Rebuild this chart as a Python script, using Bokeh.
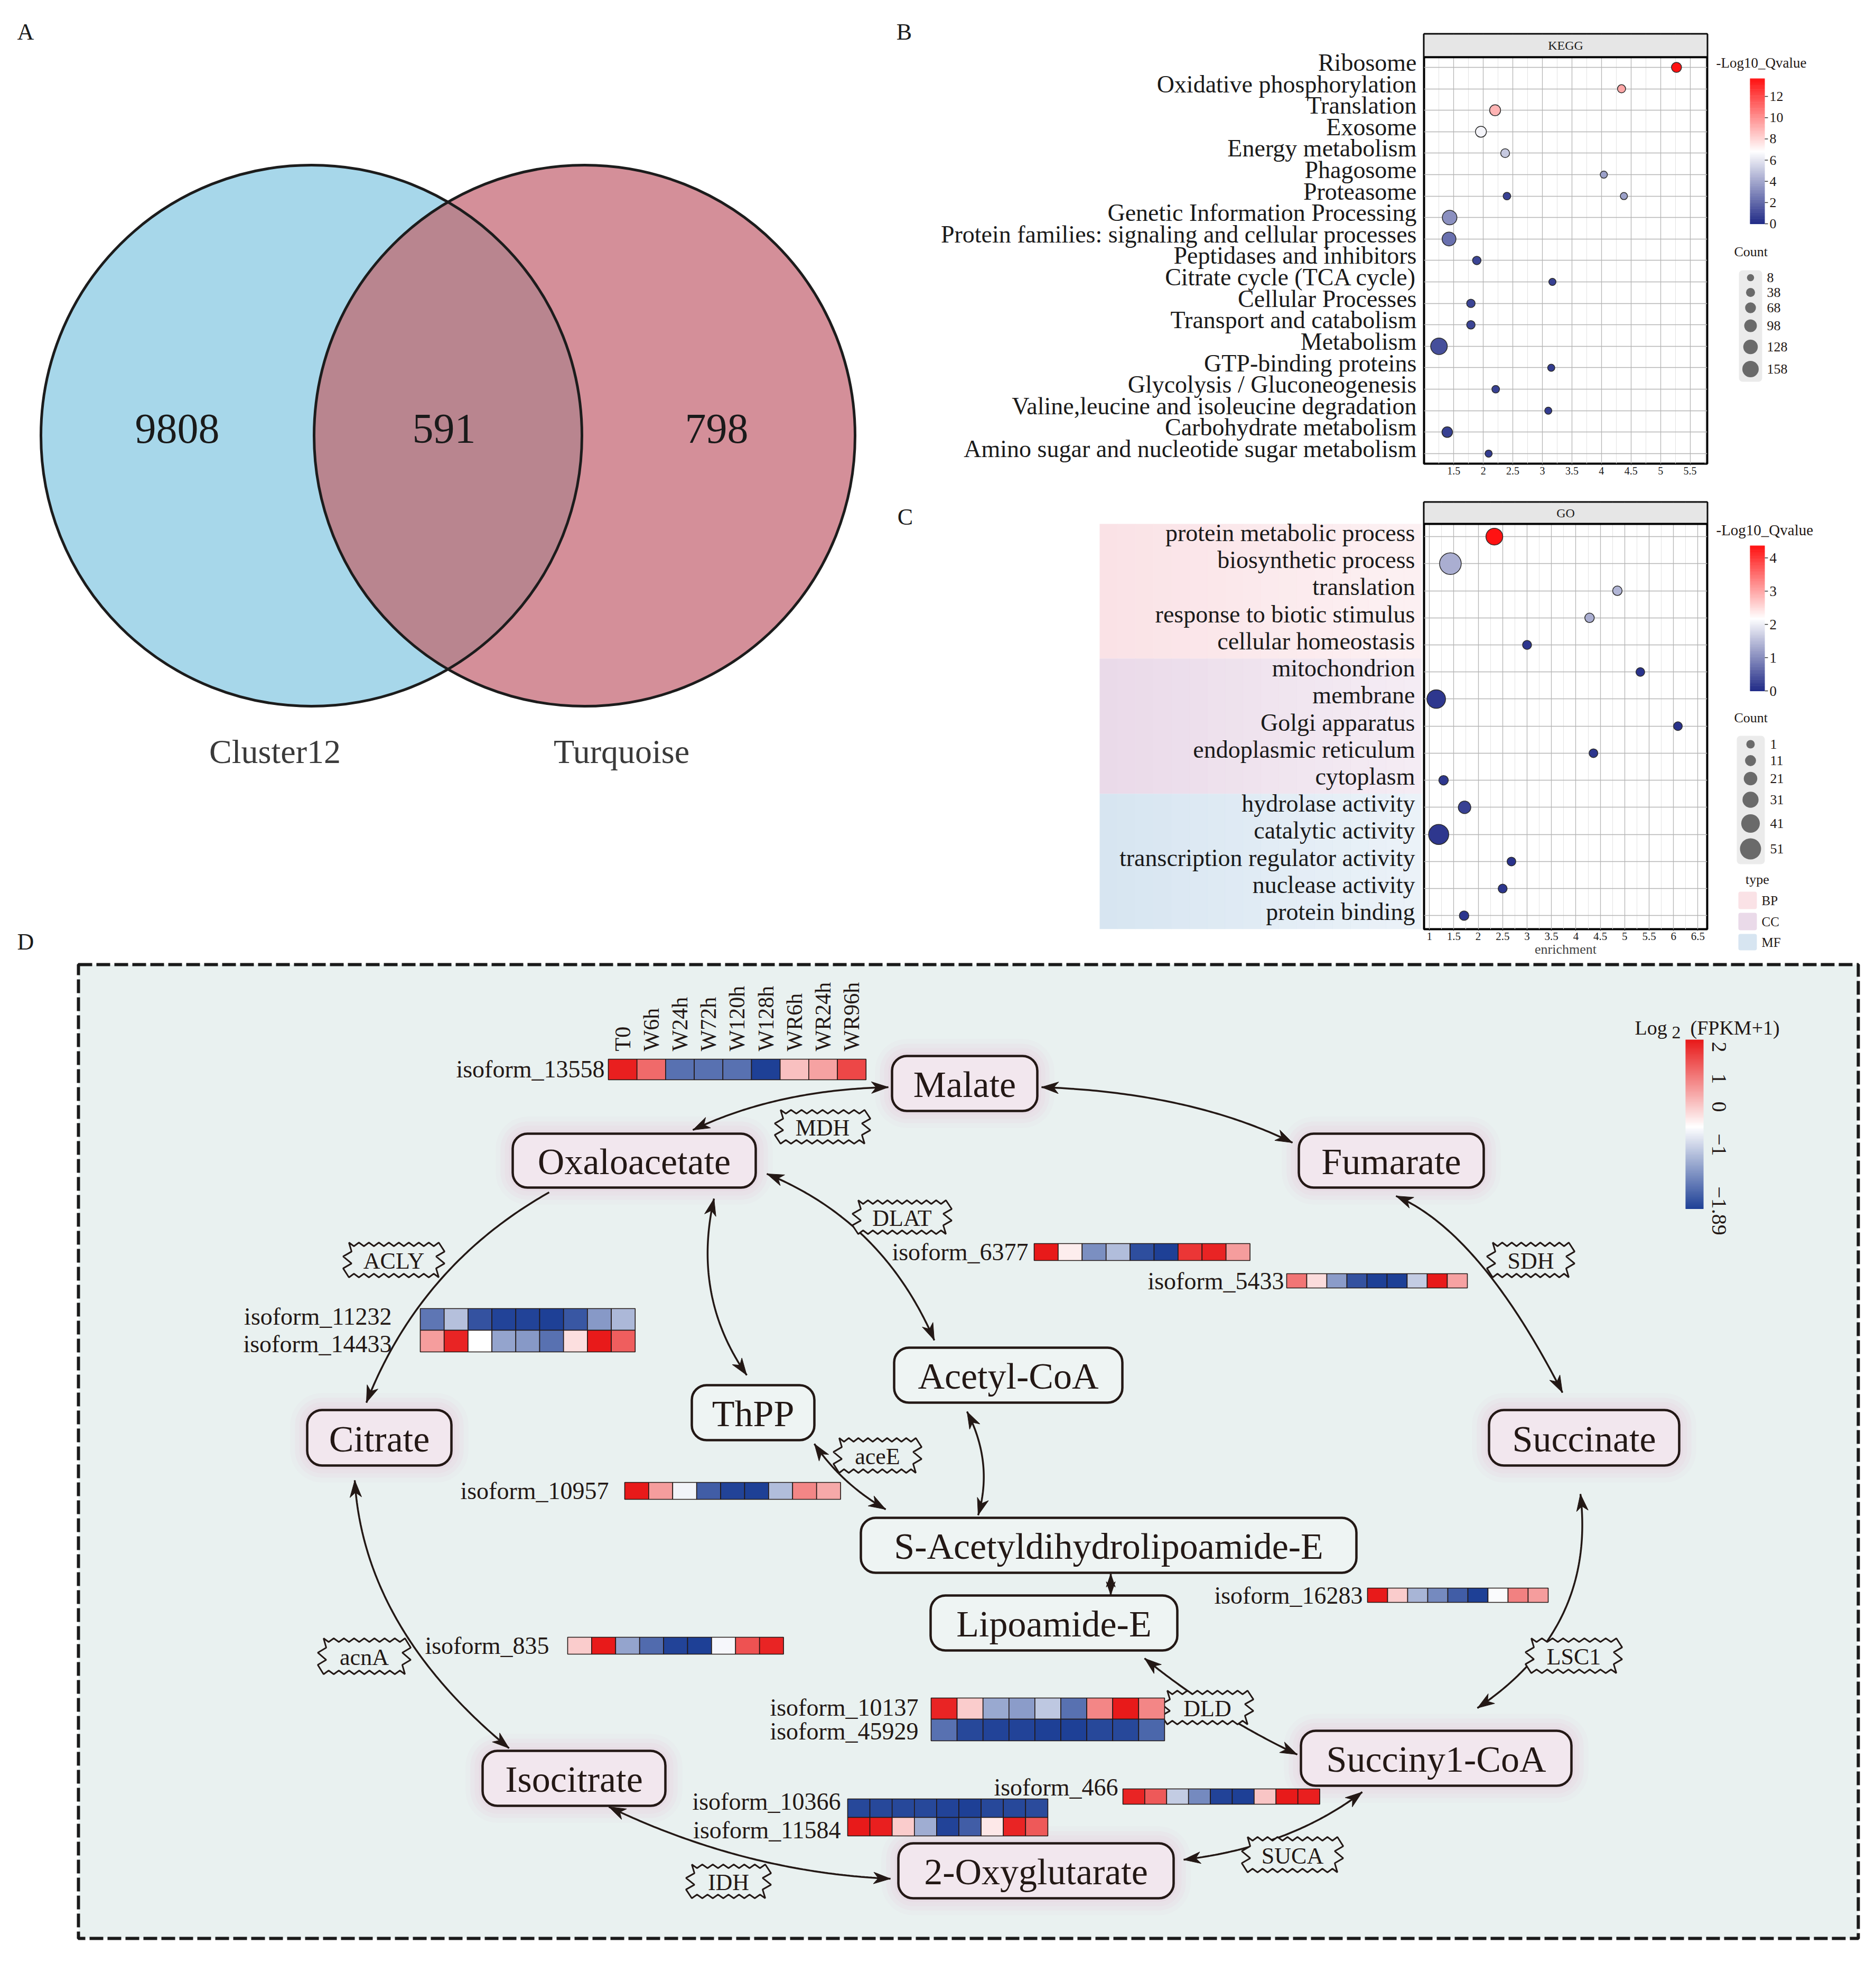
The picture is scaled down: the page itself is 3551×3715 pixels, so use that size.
import numpy as np
from bokeh.plotting import figure
from bokeh.layouts import row, column
from bokeh.models import (Range1d, FixedTicker, Grid, CustomJSTickFormatter,
                          ColumnDataSource, Spacer)
from bokeh.transform import linear_cmap
from bokeh.core.properties import value
from bokeh.embed import file_html
from bokeh.resources import INLINE

FONT = "Liberation Serif"
INK = "#231815"

# ============================ DATA ============================
# A  Venn diagram
venn_names = ["Cluster12", "Turquoise"]
venn_values = [9808, 591, 798]      # only Cluster12, shared, only Turquoise

# B  KEGG enrichment
kegg_terms = [
    "Ribosome", "Oxidative phosphorylation", "Translation", "Exosome",
    "Energy metabolism", "Phagosome", "Proteasome",
    "Genetic Information Processing",
    "Protein families: signaling and cellular processes",
    "Peptidases and inhibitors", "Citrate cycle (TCA cycle)",
    "Cellular Processes", "Transport and catabolism", "Metabolism",
    "GTP-binding proteins", "Glycolysis / Gluconeogenesis",
    "Valine,leucine and isoleucine degradation", "Carbohydrate metabolism",
    "Amino sugar and nucleotide sugar metabolism"]
kegg_point_term = [
    "Ribosome", "Oxidative phosphorylation", "Translation", "Exosome",
    "Energy metabolism", "Phagosome", "Proteasome", "Proteasome",
    "Genetic Information Processing",
    "Protein families: signaling and cellular processes",
    "Peptidases and inhibitors", "Citrate cycle (TCA cycle)",
    "Cellular Processes", "Transport and catabolism", "Metabolism",
    "GTP-binding proteins", "Glycolysis / Gluconeogenesis",
    "Valine,leucine and isoleucine degradation", "Carbohydrate metabolism",
    "Amino sugar and nucleotide sugar metabolism"]
kegg_enrichment = [5.27, 4.34, 2.20, 1.96, 2.37, 4.04, 2.40, 4.38, 1.43, 1.42,
                   1.89, 3.17, 1.79, 1.79, 1.25, 3.15, 2.21, 3.10, 1.39, 2.09]
kegg_qvalue = [13.7, 9.4, 9.0, 6.5, 5.1, 3.8, 0.8, 3.8, 3.3, 2.3,
               0.9, 0.7, 0.9, 0.9, 1.2, 0.6, 0.8, 0.6, 0.7, 0.6]
kegg_count = [55, 24, 70, 70, 36, 8, 15, 8, 129, 117,
              29, 8, 29, 29, 162, 8, 15, 8, 64, 8]
kegg_x_ticks = [1.5, 2, 2.5, 3, 3.5, 4, 4.5, 5, 5.5]
kegg_q_max = 13.7
kegg_q_ticks = [0, 2, 4, 6, 8, 10, 12]
kegg_count_breaks = [8, 38, 68, 98, 128, 158]

# C  GO enrichment
go_terms = ["protein metabolic process", "biosynthetic process", "translation",
            "response to biotic stimulus", "cellular homeostasis",
            "mitochondrion", "membrane", "Golgi apparatus",
            "endoplasmic reticulum", "cytoplasm",
            "hydrolase activity", "catalytic activity",
            "transcription regulator activity", "nuclease activity",
            "protein binding"]
go_type = ["BP"] * 5 + ["CC"] * 5 + ["MF"] * 5
go_enrichment = [2.33, 1.43, 4.85, 4.28, 3.00, 5.32, 1.14, 6.09, 4.36, 1.29,
                 1.72, 1.19, 2.68, 2.50, 1.71]
go_qvalue = [4.37, 1.36, 1.42, 1.35, 0.15, 0.10, 0.15, 0.10, 0.12, 0.15,
             0.25, 0.15, 0.10, 0.12, 0.12]
go_count = [34, 53, 5, 5, 3, 2, 41, 2, 2, 5, 17, 47, 2, 3, 5]
go_x_ticks = [1, 1.5, 2, 2.5, 3, 3.5, 4, 4.5, 5, 5.5, 6, 6.5]
go_q_max = 4.37
go_q_ticks = [0, 1, 2, 3, 4]
go_count_breaks = [1, 11, 21, 31, 41, 51]
go_type_names = ["BP", "CC", "MF"]

# D  TCA-cycle pathway with expression heatmaps  (log2(FPKM+1), scaled)
timepoints = ["T0", "W6h", "W24h", "W72h", "W120h", "W128h", "WR6h", "WR24h", "WR96h"]
isoform_13558 = [1.95, 1.3, -1.4, -1.4, -1.4, -1.89, 0.55, 0.8, 1.6]
isoform_6377 = [2.0, 0.15, -1.1, -0.65, -1.75, -1.89, 1.75, 1.9, 0.85]
isoform_5433 = [1.2, 0.3, -0.97, -1.7, -1.89, -1.89, -0.5, 2.0, 0.8]
isoform_11232 = [-1.35, -0.62, -1.7, -1.85, -1.85, -1.89, -1.65, -1.0, -0.7]
isoform_14433 = [0.85, 1.9, 0.0, -0.9, -1.0, -1.4, 0.28, 2.0, 1.4]
isoform_10957 = [2.0, 0.85, -0.1, -1.6, -1.85, -1.89, -0.65, 1.05, 0.75]
isoform_16283 = [2.0, 0.45, -0.72, -1.15, -1.6, -1.89, -0.05, 1.1, 0.85]
isoform_835 = [0.45, 2.0, -0.9, -1.45, -1.85, -1.89, -0.08, 1.5, 1.9]
isoform_10137 = [1.9, 0.45, -0.85, -0.97, -0.55, -1.4, 1.05, 2.0, 1.05]
isoform_45929 = [-1.4, -1.8, -1.85, -1.85, -1.89, -1.89, -1.8, -1.8, -1.5]
isoform_10366 = [-1.8, -1.8, -1.8, -1.8, -1.85, -1.89, -1.8, -1.8, -1.78]
isoform_11584 = [2.0, 1.95, 0.45, -0.8, -1.85, -1.6, 0.2, 1.9, 1.45]
isoform_466 = [1.9, 1.45, -0.5, -1.15, -1.85, -1.89, 0.5, 2.0, 1.95]
fpkm_low, fpkm_high = -1.89, 2.0
fpkm_tick_labels = ["2", "1", "0", "\u22121", "\u22121.89"]


# ============================ HELPERS ============================
def hexc(rgb):
    return "#%02x%02x%02x" % tuple(int(round(c)) for c in rgb)


def ramp(stops, n=256):
    pos = np.array([s[0] for s in stops], float)
    cols = np.array([s[1] for s in stops], float)
    t = np.linspace(0, 1, n)
    return [hexc([np.interp(tt, pos, cols[:, k]) for k in range(3)]) for tt in t]


PAL_Q = ramp([(0, (32, 42, 134)), (0.5, (255, 255, 255)), (1, (255, 18, 18))])
PAL_F = ramp([(0, (30, 64, 150)), (1.89 / 3.89, (255, 255, 255)), (1, (232, 26, 26))])


def kegg_size(c):
    return 12.6 + 0.1163 * c


def go_size(c):
    return 15.5 + 0.48 * c


def hide_grids(p):
    for g in p.select(type=Grid):
        g.visible = False


def canvas(x0, x1, y0, y1):
    # page-pixel coordinate figure (data y = -page y)
    p = figure(width=int(x1 - x0), height=int(y1 - y0),
               x_range=Range1d(x0, x1), y_range=Range1d(-y1, -y0),
               output_backend="svg", toolbar_location=None, min_border=0,
               x_axis_location=None, y_axis_location=None,
               outline_line_color=None, frame_align=False)
    hide_grids(p)
    return p


def T(p, xs, ys, texts, size, align="center", baseline="middle", color=INK, angle=0.0):
    n = len(texts)
    xs = [float(v) for v in np.broadcast_to(np.asarray(xs, float), (n,))]
    ys = [-float(v) for v in np.broadcast_to(np.asarray(ys, float), (n,))]
    p.text(x=xs, y=ys, text=list(texts), text_font=value(FONT), text_font_size=size,
           text_align=align, text_baseline=baseline, text_color=color, angle=angle)


def colorbar(p, x0, x1, ytop, ybot, lo, hi, pal, ticks, labels, size,
             lab_dx=9, angle=0.0, align="left", tick_len=6, label_y=None):
    n = 160
    edges = np.linspace(lo, hi, n + 1)

    def ypos(v):
        return ybot - (np.asarray(v, float) - lo) / (hi - lo) * (ybot - ytop)
    b = -ypos(edges[:-1]) - 0.6
    t = -ypos(edges[1:])
    src = ColumnDataSource(dict(b=b, t=t, v=(edges[:-1] + edges[1:]) / 2))
    p.quad(left=x0, right=x1, bottom='b', top='t', source=src,
           fill_color=linear_cmap('v', pal, lo, hi), line_color=None)
    ty = ypos(ticks) if label_y is None else np.asarray(label_y, float)
    if tick_len:
        p.segment(x0=x1, x1=x1 + tick_len, y0=list(-ty), y1=list(-ty),
                  line_color="#333333", line_width=1.5)
    T(p, x1 + lab_dx, ty, labels, size, align=align, angle=angle)


def size_legend(p, cx, ys, diam, labels, box, lab_x, size):
    l, t, r, b = box
    p.quad(left=l, right=r, top=-t, bottom=-b, fill_color="#ebebeb",
           line_color=None, border_radius=7)
    p.scatter(x=cx, y=[-v for v in ys], size=list(diam), fill_color="#6a6a6a",
              line_color=None)
    T(p, lab_x, ys, labels, size, align="left")


def style_x(ax, size):
    ax.axis_line_color = None
    ax.major_tick_line_color = "#333333"
    ax.major_tick_out = 3
    ax.major_tick_in = 0
    ax.minor_tick_line_color = None
    ax.major_label_standoff = 2
    ax.major_label_text_font = FONT
    ax.major_label_text_font_size = size
    ax.major_label_text_color = "#1a1a1a"
    ax.formatter = CustomJSTickFormatter(code="return tick.toString();")


# ============================ PANEL A ============================
pA = canvas(8, 1740, 8, 1815)
cxl, cxr, cyv, rad = 588.0, 1105.0, 823.0, 512.0
C_BLUE, C_PINK, C_MIX = "#a7d7ea", "#d48f99", "#b9858f"
pA.circle(x=[cxl, cxr], y=[-cyv, -cyv], radius=rad, fill_color=[C_BLUE, C_PINK],
          line_color=None)
half = (cxr - cxl) / 2
phi = np.arccos(half / rad)
th1 = np.linspace(-phi, phi, 120)
th2 = np.linspace(np.pi - phi, np.pi + phi, 120)
lx = np.concatenate([cxl + rad * np.cos(th1), cxr + rad * np.cos(th2)])
ly = np.concatenate([-cyv + rad * np.sin(th1), -cyv + rad * np.sin(th2)])
pA.patch(x=list(lx), y=list(ly), fill_color=C_MIX, line_color=None)
pA.circle(x=[cxl, cxr], y=[-cyv, -cyv], radius=rad, fill_color=None,
          line_color="#1c1c1c", line_width=5)
T(pA, [334, 839, 1355], 810, [str(v) for v in venn_values], "80px", color="#1a1a1a")
T(pA, [519, 1175], 1421, venn_names, "64px", color="#3a3a3a")
T(pA, [47, 1710, 1712, 47], [59, 59, 977, 1781], ["A", "B", "C", "D"], "44px",
  color="#1a1a1a")

# ============================ PANEL B (KEGG) ============================
nk = len(kegg_terms)
k_row = {t: nk - i for i, t in enumerate(kegg_terms)}
K_LAB_SHIFT = 0.22          # category labels sit slightly above their rows
KX0, KX1 = 0.997, 5.79
KY0, KY1, KSTRIP = 0.53, nk + 0.47, 1.08
pK = figure(width=1500, height=922, x_range=Range1d(KX0, KX1),
            y_range=Range1d(KY0, KY1 + KSTRIP), output_backend="svg",
            toolbar_location=None, min_border_left=954, min_border_right=10,
            min_border_top=55, min_border_bottom=54, frame_align=False)
pK.outline_line_color = "black"
pK.outline_line_width = 4
style_x(pK.xaxis[0], "20px")
pK.xaxis.ticker = FixedTicker(ticks=kegg_x_ticks,
                              minor_ticks=[t - 0.25 for t in kegg_x_ticks] + [kegg_x_ticks[-1] + 0.25])
ya = pK.yaxis[0]
lab_ticks = {t: round(k_row[t] + K_LAB_SHIFT, 2) for t in kegg_terms}
ya.ticker = FixedTicker(ticks=[lab_ticks[t] for t in kegg_terms])
ya.major_label_overrides = {lab_ticks[t]: t for t in kegg_terms}
ya.axis_line_color = None
ya.major_tick_line_color = None
ya.major_tick_out = 4
ya.major_tick_in = 0
ya.minor_tick_line_color = None
ya.major_label_standoff = 10
ya.major_label_text_font = FONT
ya.major_label_text_font_size = "46px"
ya.major_label_text_color = "#1a1a1a"
pK.xgrid.grid_line_color = "#b5b5b5"
pK.xgrid.grid_line_width = 1.3
pK.xgrid.minor_grid_line_color = "#e3e3e3"
pK.ygrid.ticker = FixedTicker(ticks=list(range(1, nk + 1)))
pK.ygrid.grid_line_color = "#b5b5b5"
pK.ygrid.grid_line_width = 1.3
pK.quad(left=KX0, right=KX1, bottom=KY1, top=KY1 + KSTRIP, fill_color="#e6e6e6",
        line_color="black", line_width=2)
pK.segment(x0=KX0, x1=KX1, y0=KY1, y1=KY1, line_color="black", line_width=4)
pK.text(x=[(KX0 + KX1) / 2], y=[KY1 + KSTRIP / 2], text=["KEGG"], text_font=value(FONT),
        text_font_size="24px", text_align="center", text_baseline="middle",
        text_color="#1a1a1a")
ksrc = ColumnDataSource(dict(x=kegg_enrichment, y=[k_row[t] for t in kegg_point_term],
                             q=kegg_qvalue, s=[kegg_size(c) for c in kegg_count]))
pK.scatter('x', 'y', size='s', source=ksrc,
           fill_color=linear_cmap('q', PAL_Q, 0, kegg_q_max),
           line_color="#2b2b2b", line_width=1.5)

pKL = canvas(3240, 3543, 8, 930)
T(pKL, 3247, 117, ["-Log10_Qvalue"], "27px", align="left")
colorbar(pKL, 3311, 3339, 147, 422, 0, kegg_q_max, PAL_Q, kegg_q_ticks,
         [str(t) for t in kegg_q_ticks], "26px")
T(pKL, 3281, 475, ["Count"], "26px", align="left")
size_legend(pKL, 3312, [524, 552, 581, 615, 655, 697],
            [kegg_size(c) for c in kegg_count_breaks],
            [str(c) for c in kegg_count_breaks], (3290, 510, 3334, 721), 3343, "26px")

# ============================ PANEL C (GO) ============================
ng = len(go_terms)
g_row = {t: ng - i for i, t in enumerate(go_terms)}
G_LAB_SHIFT = 0.14
GX0, GX1 = 0.89, 6.69
GY0, GY1, GSTRIP = 0.5, ng + 0.47, 0.8
go_yr = Range1d(GY0, GY1 + GSTRIP)
G_BOTTOM = 58

pG = figure(width=550, height=885, x_range=Range1d(GX0, GX1), y_range=go_yr,
            y_axis_location=None, output_backend="svg", toolbar_location=None,
            min_border_left=4, min_border_right=10, min_border_top=19,
            min_border_bottom=G_BOTTOM, frame_align=False)
pG.outline_line_color = "black"
pG.outline_line_width = 4
gx = pG.xaxis[0]
style_x(gx, "21px")
gx.ticker = FixedTicker(ticks=go_x_ticks,
                        minor_ticks=[t + 0.25 for t in go_x_ticks[:-1]])
gx.axis_label = "enrichment"
gx.axis_label_text_font = FONT
gx.axis_label_text_font_size = "26px"
gx.axis_label_text_font_style = "normal"
gx.axis_label_standoff = 0
pG.xgrid.grid_line_color = "#b5b5b5"
pG.xgrid.grid_line_width = 1.3
pG.xgrid.minor_grid_line_color = "#e3e3e3"
pG.add_layout(Grid(dimension=1, ticker=FixedTicker(ticks=list(range(1, ng + 1))),
                   grid_line_color="#b5b5b5", grid_line_width=1.3))
pG.quad(left=GX0, right=GX1, bottom=GY1, top=GY1 + GSTRIP, fill_color="#e6e6e6",
        line_color="black", line_width=2)
pG.segment(x0=GX0, x1=GX1, y0=GY1, y1=GY1, line_color="black", line_width=4)
pG.text(x=[(GX0 + GX1) / 2], y=[GY1 + GSTRIP / 2], text=["GO"], text_font=value(FONT),
        text_font_size="24px", text_align="center", text_baseline="middle",
        text_color="#1a1a1a")
gsrc = ColumnDataSource(dict(x=go_enrichment, y=[g_row[t] for t in go_terms],
                             q=go_qvalue, s=[go_size(c) for c in go_count]))
pG.scatter('x', 'y', size='s', source=gsrc,
           fill_color=linear_cmap('q', PAL_Q, 0, go_q_max),
           line_color="#2b2b2b", line_width=1.5)

# label / type-band panel left of the GO frame (shares the y scale)
pBand = figure(width=950, height=885, x_range=Range1d(1740, 2690), y_range=go_yr,
               y_axis_location=None, output_backend="svg", toolbar_location=None,
               min_border_left=0, min_border_right=0, min_border_top=19,
               min_border_bottom=G_BOTTOM, outline_line_color=None, frame_align=False)
bx = pBand.xaxis[0]
style_x(bx, "21px")
bx.ticker = FixedTicker(ticks=[2000])
bx.axis_label = "enrichment"
bx.axis_label_text_font = FONT
bx.axis_label_text_font_size = "26px"
bx.axis_label_text_font_style = "normal"
bx.axis_label_standoff = 0
bx.major_label_text_alpha = 0
bx.major_tick_line_alpha = 0
bx.axis_label_text_alpha = 0
hide_grids(pBand)
TYPE_COL = {"BP": "#fae2e6", "CC": "#eadae9", "MF": "#d7e5f1"}
nsl = 18
xs_edges = np.linspace(2080, 2690, nsl + 1)
for tname in go_type_names:
    rows = [g_row[t] for t, ty in zip(go_terms, go_type) if ty == tname]
    top = min(max(rows) + 0.5, GY1)
    bot = max(min(rows) - 0.5, GY0)
    alphas = np.linspace(1.0, 0.5, nsl)
    pBand.quad(left=list(xs_edges[:-1]), right=list(xs_edges[1:] + 0.5), top=top,
               bottom=bot, fill_color=TYPE_COL[tname], fill_alpha=list(alphas),
               line_color=None)
pBand.text(x=[2677] * ng, y=[g_row[t] + G_LAB_SHIFT for t in go_terms], text=go_terms,
           text_font=value(FONT), text_font_size="46px", text_align="right",
           text_baseline="middle", text_color="#1a1a1a")

pGL = canvas(3240, 3543, 930, 1815)
T(pGL, 3247, 1001, ["-Log10_Qvalue"], "29px", align="left")
colorbar(pGL, 3311, 3339, 1031, 1306, 0, go_q_max, PAL_Q, go_q_ticks,
         [str(t) for t in go_q_ticks], "27px")
T(pGL, 3281, 1357, ["Count"], "26px", align="left")
size_legend(pGL, 3312, [1407, 1438, 1472, 1512, 1557, 1605],
            [go_size(c) for c in go_count_breaks],
            [str(c) for c in go_count_breaks], (3286, 1391, 3339, 1634), 3349, "26px")
T(pGL, 3325, 1663, ["type"], "26px")
sw_y = [(1686, 1719), (1726, 1759), (1766, 1797)]
for tname, (a, b) in zip(go_type_names, sw_y):
    pGL.quad(left=3289, right=3324, top=-a, bottom=-b, fill_color=TYPE_COL[tname],
             line_color=None, border_radius=4)
T(pGL, 3333, [(a + b) / 2 for a, b in sw_y], go_type_names, "25px", align="left")

# ============================ PANEL D (pathway) ============================
pD = canvas(8, 3543, 1815, 3695)
BG = "#e9f1f0"
pD.quad(left=147, right=3516, top=-1824, bottom=-3667, fill_color=BG,
        line_color="#1a1a1a", line_width=6, line_dash="26 8")

nodes = [  # label, (left, top, right, bottom) page px, style
    ("Malate", (1687, 1997, 1962, 2101), "pink"),
    ("Oxaloacetate", (969, 2144, 1429, 2246), "pink"),
    ("Fumarate", (2457, 2144, 2807, 2246), "pink"),
    ("Acetyl-CoA", (1691, 2549, 2123, 2653), "plain"),
    ("ThPP", (1308, 2620, 1540, 2724), "plain"),
    ("Citrate", (580, 2667, 853, 2772), "pink"),
    ("Succinate", (2817, 2667, 3177, 2772), "pink"),
    ("S-Acetyldihydrolipoamide-E", (1628, 2871, 2566, 2975), "plain"),
    ("Lipoamide-E", (1760, 3018, 2227, 3122), "plain"),
    ("Succiny1-CoA", (2461, 3274, 2973, 3378), "pink"),
    ("Isocitrate", (912, 3312, 1258, 3416), "pink"),
    ("2-Oxyglutarate", (1699, 3487, 2220, 3591), "pink"),
]
RAD = 28
for name, (l, t, r, b), kind in nodes:
    if kind == "pink":
        for e, a in [(32, 0.08), (23, 0.10), (15, 0.13), (7, 0.16)]:
            pD.quad(left=l - e, right=r + e, top=-(t - e), bottom=-(b + e),
                    fill_color="#e7bfd7", fill_alpha=a, line_color=None,
                    border_radius=RAD + e)

arrows = [  # start, control, end, both-heads, head scale
    ((1310, 2137), (1469, 2061), (1680, 2056), True, 1.0),
    ((1970, 2056), (2251, 2066), (2445, 2161), True, 1.0),
    ((1038, 2255), (794, 2393), (692, 2653), False, 1.0),
    ((1350, 2267), (1308, 2452), (1412, 2601), True, 1.0),
    ((1450, 2220), (1670, 2310), (1767, 2535), True, 1.0),
    ((2641, 2262), (2800, 2330), (2956, 2634), True, 1.0),
    ((1540, 2731), (1592, 2807), (1675, 2855), True, 1.0),
    ((1829, 2670), (1879, 2767), (1850, 2866), True, 1.0),
    ((2101, 2977), (2101, 2997), (2101, 3017), True, 0.78),
    ((2165, 3137), (2298, 3245), (2454, 3319), True, 1.0),
    ((2990, 2826), (3020, 3080), (2795, 3231), True, 1.0),
    ((2577, 3390), (2440, 3494), (2239, 3518), True, 1.0),
    ((1684, 3554), (1410, 3542), (1151, 3418), True, 1.0),
    ((962, 3307), (687, 3080), (670, 2800), True, 1.0),
]


def head(tip, frm, k):
    tip = np.asarray(tip, float)
    u = tip - np.asarray(frm, float)
    u = u / np.hypot(*u)
    nrm = np.array([-u[1], u[0]])
    L, W = 32 * k, 22 * k
    base = tip - L * u
    pts = [tip, base + W / 2 * nrm, tip - 0.72 * L * u, base - W / 2 * nrm]
    return [p[0] for p in pts], [-p[1] for p in pts]


line_xs, line_ys, hx, hy = [], [], [], []
tt = np.linspace(0, 1, 80)
for p0, c, p1, both, k in arrows:
    p0, c, p1 = (np.asarray(v, float) for v in (p0, c, p1))
    pts = ((1 - tt) ** 2)[:, None] * p0 + (2 * (1 - tt) * tt)[:, None] * c + (tt ** 2)[:, None] * p1
    line_xs.append(list(pts[:, 0]))
    line_ys.append(list(-pts[:, 1]))
    a, b = head(p1, c, k)
    hx.append(a)
    hy.append(b)
    if both:
        a, b = head(p0, c, k)
        hx.append(a)
        hy.append(b)
pD.multi_line(xs=line_xs, ys=line_ys, line_color=INK, line_width=3.5)
pD.patches(xs=hx, ys=hy, fill_color=INK, line_color=INK, line_width=1)

for name, (l, t, r, b), kind in nodes:
    pD.quad(left=l, right=r, top=-t, bottom=-b,
            fill_color="#f2e7ee" if kind == "pink" else "#eef4f3",
            line_color=INK, line_width=4.5, border_radius=RAD)
T(pD, [(n[1][0] + n[1][2]) / 2 for n in nodes], [(n[1][1] + n[1][3]) / 2 + 2 for n in nodes],
  [n[0] for n in nodes], "70px")

enzymes = [  # label, box (left, top, right, bottom)
    ("MDH", (1476, 2099, 1635, 2163)),
    ("DLAT", (1623, 2270, 1789, 2334)),
    ("ACLY", (659, 2350, 829, 2416)),
    ("SDH", (2824, 2350, 2968, 2416)),
    ("aceE", (1587, 2720, 1732, 2786)),
    ("acnA", (611, 3099, 765, 3167)),
    ("DLD", (2208, 3198, 2360, 3262)),
    ("LSC1", (2897, 3099, 3058, 3165)),
    ("SUCA", (2360, 3475, 2530, 3542)),
    ("IDH", (1308, 3527, 1447, 3591)),
]


def jag(l, t, r, b):
    w, h = r - l, b - t
    n = max(4, int(round(w / 19)))
    xt = np.linspace(l, r, 2 * n + 1)
    yt = np.array([t + (7 if k % 2 else 0) for k in range(2 * n + 1)], float)
    f = np.array([0.0, 0.26, 0.40, 0.60, 0.74, 1.0])
    o = np.array([0, 11, -5, 11, -5, 0], float)
    xr, yr = r + o, t + f * h
    xb = xt[::-1]
    yb = np.array([b - (7 if k % 2 else 0) for k in range(2 * n + 1)], float)
    xl, yl = l - o, b - f * h
    X = np.concatenate([xt, xr, xb, xl])
    Y = np.concatenate([yt, yr, yb, yl])
    return list(X), list(-Y)


jx, jy = [], []
for name, (l, t, r, b) in enzymes:
    a, c = jag(l, t, r, b)
    jx.append(a)
    jy.append(c)
pD.patches(xs=jx, ys=jy, fill_color=BG, line_color=INK, line_width=3)
T(pD, [(e[1][0] + e[1][2]) / 2 for e in enzymes], [(e[1][1] + e[1][3]) / 2 + 2 for e in enzymes],
  [e[0] for e in enzymes], "44px")

heat_rows = [  # label, values, x0, y_top, cell_w, cell_h, label_right, label_y
    ("isoform_13558", isoform_13558, 1150, 2003, 54.2, 39, 1143, 2022),
    ("isoform_6377", isoform_6377, 1956, 2352, 45.4, 32, 1945, 2368),
    ("isoform_5433", isoform_5433, 2434, 2409, 38.0, 27, 2429, 2423),
    ("isoform_11232", isoform_11232, 794, 2475, 45.2, 41, 740, 2490),
    ("isoform_14433", isoform_14433, 794, 2516, 45.2, 41, 740, 2542),
    ("isoform_10957", isoform_10957, 1181, 2804, 45.4, 32, 1151, 2820),
    ("isoform_16283", isoform_16283, 2587, 3004, 38.0, 27, 2578, 3018),
    ("isoform_835", isoform_835, 1073, 3097, 45.4, 32, 1038, 3113),
    ("isoform_10137", isoform_10137, 1761, 3212, 49.1, 40, 1737, 3230),
    ("isoform_45929", isoform_45929, 1761, 3252, 49.1, 41, 1737, 3275),
    ("isoform_10366", isoform_10366, 1603, 3403, 42.1, 35, 1590, 3408),
    ("isoform_11584", isoform_11584, 1603, 3438, 42.1, 35, 1590, 3462),
    ("isoform_466", isoform_466, 2124, 3384, 41.4, 29, 2115, 3381),
]
L_, R_, TOP_, BOT_, V_ = [], [], [], [], []
for lab, vals, x0, y0, cw, ch, lx_, ly_ in heat_rows:
    for i, v in enumerate(vals):
        L_.append(x0 + i * cw)
        R_.append(x0 + (i + 1) * cw)
        TOP_.append(-y0)
        BOT_.append(-(y0 + ch))
        V_.append(v)
hsrc = ColumnDataSource(dict(l=L_, r=R_, t=TOP_, b=BOT_, v=V_))
pD.quad(left='l', right='r', top='t', bottom='b', source=hsrc,
        fill_color=linear_cmap('v', PAL_F, fpkm_low, fpkm_high),
        line_color=INK, line_width=1.6)
T(pD, [h[6] for h in heat_rows], [h[7] for h in heat_rows], [h[0] for h in heat_rows],
  "46px", align="right")
h0 = heat_rows[0]
T(pD, [h0[2] + (i + 0.5) * h0[4] for i in range(len(timepoints))], 1988, timepoints,
  "42px", align="left", angle=np.pi / 2)

# colour key
T(pD, 3093, 1943, ["Log"], "38px", align="left", baseline="alphabetic")
T(pD, 3163, 1952, ["2"], "34px", align="left", baseline="alphabetic")
T(pD, 3198, 1943, ["(FPKM+1)"], "38px", align="left", baseline="alphabetic")
colorbar(pD, 3189, 3223, 1966, 2286, fpkm_low, fpkm_high, PAL_F, [2, 1, 0, -1, -1.89],
         fpkm_tick_labels, "40px", lab_dx=29, angle=-np.pi / 2, align="center",
         tick_len=0, label_y=[1980, 2040, 2093, 2165, 2290])

# ============================ LAYOUT ============================
content = column(
    row(pA, column(row(pK, pKL), row(pBand, pG, pGL))),
    pD,
)
layout = column(Spacer(width=10, height=9), row(Spacer(width=9, height=10), content))
open("out.html", "w").write(file_html(layout, INLINE, "Figure"))
